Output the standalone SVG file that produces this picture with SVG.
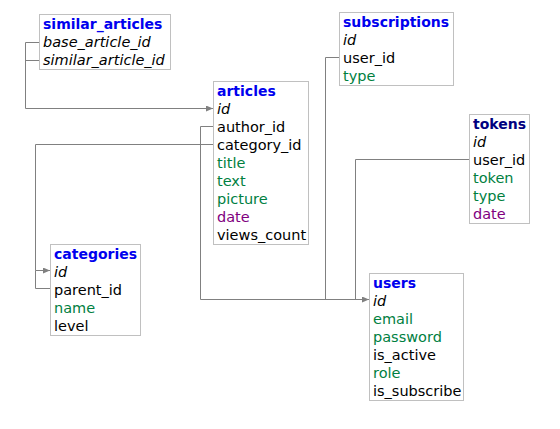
<svg xmlns="http://www.w3.org/2000/svg" width="560" height="429" viewBox="0 0 560 429">
<defs>
<style>
text{font-family:"DejaVu Sans",Verdana,sans-serif;font-size:14.5px;fill:#000}
.t{font-weight:bold;font-size:14px;fill:#0000ee}
.tn{font-weight:bold;font-size:14px;fill:#000080}
.k{font-style:italic}
.g{fill:#00803f}
.p{fill:#800080}
.box{fill:#fff;stroke:#c0c0c0;stroke-width:1}
.c{fill:none;stroke:#808080;stroke-width:1}
</style>
<marker id="ah" markerUnits="userSpaceOnUse" markerWidth="8" markerHeight="8" refX="7" refY="3" orient="auto">
<path d="M0,0 L7,3 L0,6 z" fill="#808080"/>
</marker>
</defs>
<rect width="560" height="429" fill="#fff"/>
<g id="connectors">
<path class="c" d="M39.5,42.5 H25.5 V108.5 H213" marker-end="url(#ah)"/>
<path class="c" d="M39.5,60.5 H25.5"/>
<path class="c" d="M213.5,126.5 H200.5 V299.5 H369" marker-end="url(#ah)"/>
<path class="c" d="M213.5,144.5 H35.5 V270.5 H50" marker-end="url(#ah)"/>
<path class="c" d="M50.5,288.5 H35.5 V270.5"/>
<path class="c" d="M339.5,57.5 H325.5 V299.5"/>
<path class="c" d="M469.5,159.5 H355.5 V299.5"/>
</g>
<g id="similar_articles">
<rect class="box" x="39.5" y="14.5" width="131" height="55"/>
<text class="t" x="43" y="29">similar_articles</text>
<text class="k" x="43" y="47">base_article_id</text>
<text class="k" x="43" y="65">similar_article_id</text>
</g>
<g id="subscriptions">
<rect class="box" x="339.5" y="12.5" width="114" height="73"/>
<text class="t" x="343" y="27">subscriptions</text>
<text class="k" x="343" y="45">id</text>
<text x="343" y="63">user_id</text>
<text class="g" x="343" y="81">type</text>
</g>
<g id="articles">
<rect class="box" x="213.5" y="81.5" width="95" height="163"/>
<text class="t" x="217" y="96">articles</text>
<text class="k" x="217" y="114">id</text>
<text x="217" y="132">author_id</text>
<text x="217" y="150">category_id</text>
<text class="g" x="217" y="168">title</text>
<text class="g" x="217" y="186">text</text>
<text class="g" x="217" y="204">picture</text>
<text class="p" x="217" y="222">date</text>
<text x="217" y="240">views_count</text>
</g>
<g id="tokens">
<rect class="box" x="469.5" y="114.5" width="60" height="109"/>
<text class="tn" x="473" y="129">tokens</text>
<text class="k" x="473" y="147">id</text>
<text x="473" y="165">user_id</text>
<text class="g" x="473" y="183">token</text>
<text class="g" x="473" y="201">type</text>
<text class="p" x="473" y="219">date</text>
</g>
<g id="categories">
<rect class="box" x="50.5" y="244.5" width="90" height="91"/>
<text class="t" x="54" y="259">categories</text>
<text class="k" x="54" y="277">id</text>
<text x="54" y="295">parent_id</text>
<text class="g" x="54" y="313">name</text>
<text x="54" y="331">level</text>
</g>
<g id="users">
<rect class="box" x="369.5" y="273.5" width="94" height="127"/>
<text class="t" x="373" y="288">users</text>
<text class="k" x="373" y="306">id</text>
<text class="g" x="373" y="324">email</text>
<text class="g" x="373" y="342">password</text>
<text x="373" y="360">is_active</text>
<text class="g" x="373" y="378">role</text>
<text x="373" y="396">is_subscribe</text>
</g>
</svg>
